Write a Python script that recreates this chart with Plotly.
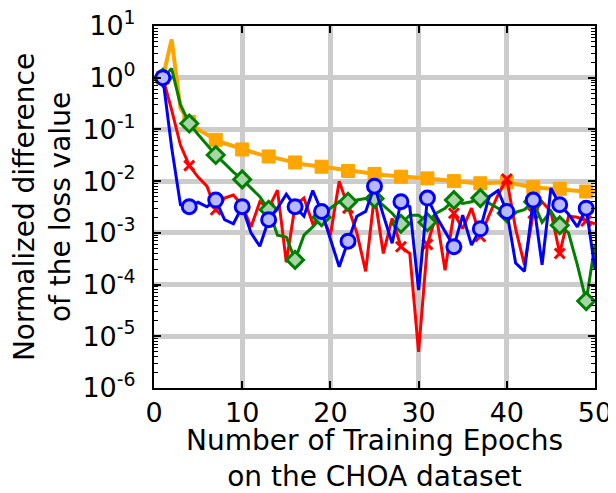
import plotly.graph_objects as go

epochs = list(range(1, 51))

orange_vals = [1.0, 5.5, 0.26, 0.14, 0.10, 0.078, 0.063, 0.054, 0.047, 0.041,
               0.037, 0.033, 0.030, 0.027, 0.025, 0.023, 0.021, 0.020, 0.019, 0.018,
               0.0165, 0.0157, 0.015, 0.0144, 0.0138, 0.0132, 0.0127, 0.0122, 0.0119, 0.0116,
               0.0113, 0.0108, 0.0103, 0.0100, 0.0096, 0.0093, 0.0091, 0.0092, 0.0094, 0.0095,
               0.0088, 0.0081, 0.0076, 0.0074, 0.0072, 0.0071, 0.0068, 0.0065, 0.0063, 0.0061]

red_vals = [1.0, 0.24, 0.05, 0.02, 0.012, 0.008, 0.0028, 0.0047, 0.0054, 0.0034,
            0.0013, 0.004, 0.003, 0.0067, 0.00027, 0.0034, 0.0047, 0.0015, 0.0022, 0.0009,
            0.01, 0.003, 0.001, 0.00018, 0.0054, 0.0004, 0.0019, 0.00054, 0.0004, 5e-6,
            0.0006, 0.0022, 0.00019, 0.0024, 0.0012, 0.003, 0.00085, 0.0022, 0.0054, 0.011,
            0.0012, 0.00024, 0.0024, 0.004, 0.0026, 0.0004, 0.0021, 0.002, 0.0017, 0.0015]

green_vals = [1.0, 1.5, 0.3, 0.13, 0.08, 0.05, 0.032, 0.022, 0.015, 0.0108,
              0.0075, 0.005, 0.0028, 0.0009, 0.00083, 0.0003, 0.0009, 0.0013, 0.002, 0.003,
              0.004, 0.004, 0.0043, 0.0046, 0.0046, 0.0034, 0.0024, 0.0015, 0.0022, 0.0022,
              0.0016, 0.0024, 0.003, 0.0043, 0.0037, 0.004, 0.0047, 0.0037, 0.003, 0.0024,
              0.0025, 0.0028, 0.004, 0.0016, 0.0026, 0.0014, 0.001, 0.00024, 0.000048, 0.0006]

blue_vals = [1.0, 0.045, 0.0035, 0.0032, 0.0039, 0.0032, 0.0043, 0.0018, 0.0015, 0.0032,
             0.001, 0.00055, 0.0018, 0.003, 0.0056, 0.0032, 0.0021, 0.0066, 0.0026, 0.00077,
             0.00022, 0.00069, 0.0021, 0.0026, 0.008, 0.0022, 0.00063, 0.004, 0.0032, 0.000078,
             0.0047, 0.0021, 0.00105, 0.00054, 0.0022, 0.00058, 0.0012, 0.005, 0.0066, 0.0026,
             0.00026, 0.00018, 0.0043, 0.00024, 0.0073, 0.0035, 0.0023, 0.0013, 0.003, 0.0002]

x_ticks = [0, 10, 20, 30, 40, 50]
y_exps = [-6, -5, -4, -3, -2, -1, 0, 1]
y_ticklabels = ['10<sup>%d</sup>' % e for e in y_exps]

FONT = 'DejaVu Sans'
FS = 27
TFS = 28
fig = go.Figure()

series = [
    (orange_vals, 'orange', 4, dict(symbol='square', size=13, color='orange',
                                    line=dict(color='orange', width=1))),
    (red_vals, 'red', 3, dict(symbol='x-thin-open', size=10, color='red',
                              line=dict(color='red', width=3))),
    (green_vals, 'green', 3, dict(symbol='diamond', size=13, color='#a8d4a8',
                                  line=dict(color='green', width=3))),
    (blue_vals, 'blue', 3, dict(symbol='circle', size=14, color='#b8b8ff',
                                line=dict(color='blue', width=3))),
]

for vals, col, lw, mk in series:
    fig.add_trace(go.Scatter(x=epochs, y=vals, mode='lines',
                             line=dict(color=col, width=lw), showlegend=False,
                             hoverinfo='skip'))
    fig.add_trace(go.Scatter(x=epochs[::3], y=vals[::3], mode='markers',
                             marker=mk, showlegend=False, hoverinfo='skip'))

minor_vals = [k * 10.0 ** e for e in range(-6, 1) for k in range(2, 10)]

# the page body has an 8px margin, so the figure is 8px smaller than the window
fig.update_layout(
    width=608, height=485,
    margin=dict(l=146, r=21, t=18, b=105),
    paper_bgcolor='white', plot_bgcolor='white',
    font=dict(family=FONT, size=FS, color='black'),
    xaxis=dict(
        range=[0, 50], tickmode='array', tickvals=x_ticks,
        showgrid=True, gridcolor='#cccccc', gridwidth=5,
        showline=True, linecolor='black', linewidth=2, mirror='allticks',
        ticks='inside', ticklen=7, tickwidth=1.5, tickcolor='black',
        zeroline=False, tickfont=dict(size=FS), automargin=False,
        ticklabeloverflow='allow',
        title=dict(text='Number of Training Epochs<br>on the CHOA dataset',
                   font=dict(size=TFS), standoff=11),
    ),
    yaxis=dict(
        type='log', range=[-6, 1], tickmode='array',
        tickvals=[10.0 ** e for e in y_exps], ticktext=y_ticklabels,
        showgrid=True, gridcolor='#cccccc', gridwidth=5,
        showline=True, linecolor='black', linewidth=2, mirror='allticks',
        ticks='inside', ticklen=7, tickwidth=1.5, tickcolor='black',
        zeroline=False, tickfont=dict(size=FS), automargin=False,
        ticklabelstandoff=11, ticklabeloverflow='allow',
        minor=dict(tickmode='array', tickvals=minor_vals, ticks='inside',
                   ticklen=4, tickwidth=1, tickcolor='black', showgrid=False),
        title=dict(text='Normalized difference<br>of the loss value',
                   font=dict(size=TFS), standoff=5),
    ),
)

fig.write_html('out.html')
